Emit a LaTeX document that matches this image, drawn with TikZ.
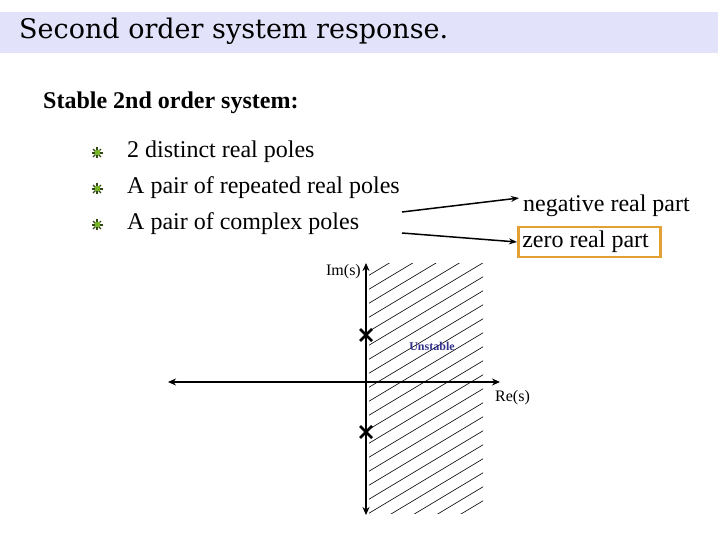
\documentclass[tikz,border=0pt]{standalone}
\usepackage{fontspec}
\setmainfont{Liberation Serif}
\newfontfamily\titlefont{DejaVu Serif}
\usetikzlibrary{arrows.meta,calc}
\definecolor{titlebg}{RGB}{226,226,250}
\definecolor{boxorange}{RGB}{228,160,50}
\definecolor{unstblue}{RGB}{50,50,140}
\definecolor{bulgreen}{RGB}{120,180,40}
\definecolor{buldark}{RGB}{50,70,20}
\tikzset{
  body/.style={anchor=west, inner sep=0pt, font=\fontsize{24}{24}\selectfont},
  axis/.style={line width=2pt, {Stealth[length=8pt,width=7pt]}-{Stealth[length=8pt,width=7pt]}},
  pointer/.style={line width=1.5pt, -{Stealth[length=8pt,width=6pt]}},
  pole/.style={line width=2.5pt},
  hatch/.style={line width=0.6pt},
  axlabel/.style={inner sep=0pt, font=\fontsize{16}{16}\selectfont},
}
\newcommand{\bulstar}[1]{%
  \foreach \a in {0,45,90,135}{\draw[buldark, line width=1.2pt] ($(#1)+(\a:5.5)$) -- ($(#1)+(\a+180:5.5)$);}
  \fill[bulgreen] ($(#1)+(-2.5,-2.5)$) rectangle ($(#1)+(2.5,2.5)$);
}
\begin{document}
\begin{tikzpicture}[x=1pt,y=-1pt]
\useasboundingbox (0,0) rectangle (720,540);
\fill[titlebg] (0,12) rectangle (718,53);
\node[anchor=west, inner sep=0pt, font=\titlefont\fontsize{27}{27}\selectfont] (title) at (19,31) {Second order system response.};
\node[anchor=west, inner sep=0pt, font=\bfseries\fontsize{24}{24}\selectfont] (stable) at (43,103) {Stable 2nd order system:};
\coordinate (b1) at (97,153);
\coordinate (b2) at (97,189);
\coordinate (b3) at (97,225);
\bulstar{b1}\bulstar{b2}\bulstar{b3}
\node[body] (t1) at (127,152) {2 distinct real poles};
\node[body] (t2) at (127,188) {A pair of repeated real poles};
\node[body] (t3) at (127,224) {A pair of complex poles};
\node[body] (neg) at (523,206) {negative real part};
\node[body, draw=boxorange, line width=2.5pt, inner sep=4pt] (zero) at (517,242) {\makebox[134pt][l]{zero real part}};
\coordinate (s1) at (402,212);
\coordinate (s2) at (402,233);
\draw[pointer] (s1) -- ($(neg.west)+(-4,-8)$);
\draw[pointer] (s2) -- (zero.west);
% hatch
\begin{scope}
\clip (369,263) rectangle (483,513);
\foreach \c in {263,277,...,600}{\draw[hatch] (366,\c) -- (490,{\c-0.6*124});}
\end{scope}
\coordinate (yt) at (366,263);
\coordinate (yb) at (366,515);
\coordinate (xl) at (168,382);
\coordinate (xr) at (500,382);
\draw[axis] (yb) -- (yt);
\draw[axis] (xl) -- (xr);
\node[axlabel, anchor=east] (im) at (361,272) {Im(s)};
\node[axlabel, anchor=west] (re) at (495,398) {Re(s)};
\node[inner sep=0pt, text=unstblue, font=\bfseries\fontsize{12}{12}\selectfont] (unst) at (432,346) {Unstable};
\foreach \p in {335,432}{\draw[pole] (360,\p-6) -- (372,\p+6) (360,\p+6) -- (372,\p-6);}
\end{tikzpicture}
\end{document}
